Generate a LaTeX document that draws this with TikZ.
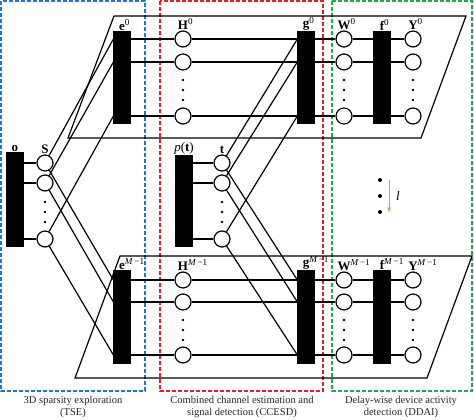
\documentclass[tikz,border=0pt]{standalone}
\usepackage{fontspec}
\setmainfont{Liberation Serif}
\usetikzlibrary{arrows.meta}
\definecolor{tseblue}{RGB}{30,120,205}
\definecolor{ccred}{RGB}{230,30,40}
\definecolor{ddgreen}{RGB}{30,170,80}
\definecolor{lorange}{RGB}{235,150,85}
\newcommand{\vlab}[2]{\textbf{#1}\rlap{\textsuperscript{#2}}}

\begin{document}
\begin{tikzpicture}[x=1pt,y=-1pt,line width=1.2pt,font=\fontsize{10.5}{12.5}\selectfont]
                \tikzstyle{bar}=[draw,fill=black,minimum width=16pt,inner sep=0pt]
                \tikzstyle{unit}=[circle,draw,fill=white,minimum size=16pt,inner sep=0pt]
                \tikzstyle{lbl}=[inner sep=0.5pt,label distance=0pt,font=\fontsize{13}{15}\selectfont]
                \tikzstyle{zone}=[line width=1.3pt,dash pattern=on 4pt off 2pt]
                \tikzstyle{modname}=[align=center,text=black!85]
                \useasboundingbox (0,0) rectangle (474,420);

                % dashed module boxes
                \draw[zone,tseblue] (1,1) rectangle (145,391);
                \draw[zone,ccred] (160,1) rectangle (323,391);
                \draw[zone,ddgreen] (332,1) rectangle (472,391);

                % delay planes
                \draw (114,16) -- (466,16) -- (421,138) -- (68,138) -- cycle;
                \draw (120,256) -- (472,256) -- (427,378) -- (75,378) -- cycle;

                % plane 0
                \node[bar,minimum height=91pt,label={[lbl]above:\vlab{e}{0}}] (e0) at (122,77.5) {};
                \node[bar,minimum height=91pt,label={[lbl]above:\vlab{g}{0}}] (g0) at (306,77.5) {};
                \node[bar,minimum height=91pt,label={[lbl]above:\vlab{f}{0}}] (f0) at (382,77.5) {};
                \node[unit,label={[lbl]above:\vlab{H}{0}}] (H01) at (183,39) {};
                \node[unit] (H02) at (183,62) {};
                \node[unit] (H03) at (183,116) {};
                \node[unit,label={[lbl]above:\vlab{W}{0}}] (W01) at (344,39) {};
                \node[unit] (W02) at (344,62) {};
                \node[unit] (W03) at (344,116) {};
                \node[unit,label={[lbl]above:\vlab{Y}{0}}] (Y01) at (413,39) {};
                \node[unit] (Y02) at (413,62) {};
                \node[unit] (Y03) at (413,116) {};

                % plane M-1
                \node[bar,minimum height=92pt,label={[lbl]above:\vlab{e}{\textit{M}\,−1}}] (eM) at (122,317) {};
                \node[bar,minimum height=92pt,label={[lbl]above:\vlab{g}{\textit{M}\,−1}}] (gM) at (306,317) {};
                \node[bar,minimum height=92pt,label={[lbl]above:\vlab{f}{\textit{M}\,−1}}] (fM) at (382,317) {};
                \node[unit,label={[lbl]above:\vlab{H}{\textit{M}\,−1}}] (HM1) at (183,280) {};
                \node[unit] (HM2) at (183,302) {};
                \node[unit] (HM3) at (183,355) {};
                \node[unit,label={[lbl]above:\vlab{W}{\textit{M}\,−1}}] (WM1) at (344,280) {};
                \node[unit] (WM2) at (344,302) {};
                \node[unit] (WM3) at (344,355) {};
                \node[unit,label={[lbl]above:\vlab{Y}{\textit{M}\,−1}}] (YM1) at (413,280) {};
                \node[unit] (YM2) at (413,302) {};
                \node[unit] (YM3) at (413,355) {};

                % shared part
                \node[bar,minimum height=93pt,label={[lbl]above:\textbf{o}}] (o) at (15,199.5) {};
                \node[bar,minimum height=90pt,label={[lbl]above:\textit{p}(\textbf{t})}] (p) at (184,201) {};
                \node[unit,label={[lbl]above:\textbf{S}}] (S1) at (45,163) {};
                \node[unit] (S2) at (45,183) {};
                \node[unit] (S3) at (45,239) {};
                \node[unit,label={[lbl]above:\textbf{t}}] (t1) at (222,163) {};
                \node[unit] (t2) at (222,183) {};
                \node[unit] (t3) at (222,239) {};

                % rows
                \draw (e0.east |- H01) -- (H01) -- (g0.west |- H01);
                \draw (e0.east |- H02) -- (H02) -- (g0.west |- H02);
                \draw (e0.east |- H03) -- (H03) -- (g0.west |- H03);
                \draw (g0.east |- W01) -- (W01) -- (f0.west |- W01);
                \draw (g0.east |- W02) -- (W02) -- (f0.west |- W02);
                \draw (g0.east |- W03) -- (W03) -- (f0.west |- W03);
                \draw (f0.east |- Y01) -- (Y01);
                \draw (f0.east |- Y02) -- (Y02);
                \draw (f0.east |- Y03) -- (Y03);
                \draw (eM.east |- HM1) -- (HM1) -- (gM.west |- HM1);
                \draw (eM.east |- HM2) -- (HM2) -- (gM.west |- HM2);
                \draw (eM.east |- HM3) -- (HM3) -- (gM.west |- HM3);
                \draw (gM.east |- WM1) -- (WM1) -- (fM.west |- WM1);
                \draw (gM.east |- WM2) -- (WM2) -- (fM.west |- WM2);
                \draw (gM.east |- WM3) -- (WM3) -- (fM.west |- WM3);
                \draw (fM.east |- YM1) -- (YM1);
                \draw (fM.east |- YM2) -- (YM2);
                \draw (fM.east |- YM3) -- (YM3);
                \draw (o.east |- S1) -- (S1);
                \draw (o.east |- S2) -- (S2);
                \draw (o.east |- S3) -- (S3);
                \draw (p.east |- t1) -- (t1);
                \draw (p.east |- t2) -- (t2);
                \draw (p.east |- t3) -- (t3);

                % crossing links
                \draw (S1) -- (e0.west |- H01);
                \draw (S2) -- (e0.west |- H02);
                \draw (S3) -- (e0.west |- H03);
                \draw (S1) -- (eM.west |- HM1);
                \draw (S2) -- (eM.west |- HM2);
                \draw (S3) -- (eM.west |- HM3);
                \draw (t1) -- (g0.west |- H01);
                \draw (t2) -- (g0.west |- H02);
                \draw (t3) -- (g0.west |- H03);
                \draw (t1) -- (gM.west |- HM1);
                \draw (t2) -- (gM.west |- HM2);
                \draw (t3) -- (gM.west |- HM3);

                % vertical dots
                \fill (183,80) circle (1.3pt) (183,90) circle (1.3pt) (183,100) circle (1.3pt);
                \fill (344,80) circle (1.3pt) (344,90) circle (1.3pt) (344,100) circle (1.3pt);
                \fill (413,80) circle (1.3pt) (413,90) circle (1.3pt) (413,100) circle (1.3pt);
                \fill (183,320) circle (1.3pt) (183,330) circle (1.3pt) (183,340) circle (1.3pt);
                \fill (344,320) circle (1.3pt) (344,330) circle (1.3pt) (344,340) circle (1.3pt);
                \fill (413,320) circle (1.3pt) (413,330) circle (1.3pt) (413,340) circle (1.3pt);
                \fill (45,202) circle (1.3pt) (45,212) circle (1.3pt) (45,222) circle (1.3pt);
                \fill (222,202) circle (1.3pt) (222,212) circle (1.3pt) (222,222) circle (1.3pt);

                % delay index
                \fill (380,180) circle (2pt) (380,196) circle (2pt) (380,212) circle (2pt);
                \coordinate (la) at (389,180);
                \coordinate (lb) at (389,212);
                \draw[lorange,line width=1pt,-{Stealth[length=5pt,width=4pt]}] (la) -- (lb);
                \node[font=\fontsize{13}{15}\selectfont] (l) at (398,196) {\textit{l}};

                % module names
                \node[modname] (tse) at (73,407) {3D sparsity exploration\\(TSE)};
                \node[modname] (ccesd) at (242,407) {Combined channel estimation and\\signal detection (CCESD)};
                \node[modname] (ddai) at (401,407) {Delay-wise device activity\\detection (DDAI)};

                \end{tikzpicture}
\end{document}
